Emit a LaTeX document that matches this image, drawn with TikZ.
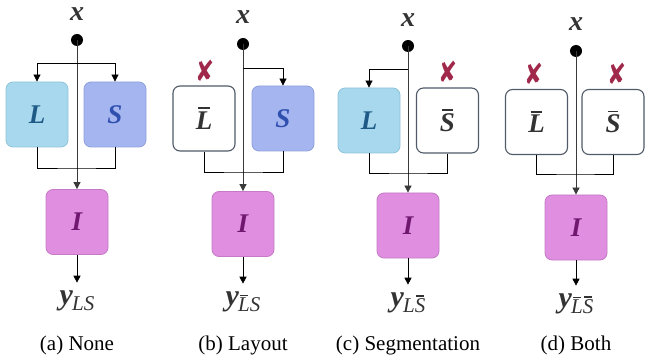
\documentclass[tikz,border=0pt]{standalone}
\usepackage{fontspec}
\usepackage{graphicx}
\setmainfont{Liberation Serif}
\newfontfamily\symfont{DejaVu Sans}
\usetikzlibrary{arrows.meta}
\definecolor{Lfill}{HTML}{A7D8EE}
\definecolor{Lborder}{HTML}{8FC3DA}
\definecolor{Ltext}{HTML}{1F5A86}
\definecolor{Sfill}{HTML}{A5B5F0}
\definecolor{Sborder}{HTML}{8E9FDA}
\definecolor{Stext}{HTML}{3050B0}
\definecolor{Ifill}{HTML}{E08EE0}
\definecolor{Iborder}{HTML}{C57AC5}
\definecolor{Itext}{HTML}{701870}
\definecolor{Nborder}{HTML}{505A68}
\definecolor{Ntext}{HTML}{333333}
\definecolor{Dark}{HTML}{333333}
\definecolor{Xred}{HTML}{A0284A}
\definecolor{Wgray}{HTML}{3A3A3A}
\newcommand\barit[1]{\begingroup\setbox0\hbox{#1}\vbox{\offinterlineskip\hbox to\wd0{\hfil\rule{0.7\wd0}{0.06em}\hfil}\kern0.1em\box0}\endgroup}
\newcommand\ysub[1]{\textbf{\textit{y}}\kern-1pt\raisebox{-6pt}{\fontsize{21}{21}\selectfont\itshape #1}}
\newcommand\xmk{\scalebox{0.95}[1.2]{✘}}
\begin{document}
\begin{tikzpicture}[x=1pt,y=-1pt,
  box/.style={rounded corners=7pt, minimum width=62pt, minimum height=65pt, line width=0.8pt, inner sep=0pt, font=\fontsize{27}{27}\selectfont\bfseries\itshape},
  lbox/.style={box, fill=Lfill, draw=Lborder, text=Ltext},
  sbox/.style={box, fill=Sfill, draw=Sborder, text=Stext},
  ibox/.style={box, fill=Ifill, draw=Iborder, text=Itext},
  nbox/.style={box, fill=white, draw=Nborder, line width=1.1pt, text=Ntext},
  wire/.style={line width=0.7pt, draw=black},
  mainwire/.style={line width=0.8pt, draw=Wgray, -{Triangle[width=7pt,length=7pt]}},
  arr/.style={wire, -{Triangle[width=7pt,length=7pt]}},
  dotn/.style={circle, fill=black, minimum size=12pt, inner sep=0pt},
  xlab/.style={font=\fontsize{28}{28}\selectfont\bfseries\itshape, text=Dark, inner sep=0pt},
  ylab/.style={font=\fontsize{30}{30}\selectfont, text=Dark, inner sep=0pt},
  cross/.style={font=\symfont\fontsize{24}{24}\selectfont, text=Xred, inner sep=0pt},
  captxt/.style={font=\fontsize{21}{21}\selectfont, inner sep=0pt}
]
\useasboundingbox (0,0) rectangle (645,358);

% (a) None
\node[xlab] (xa) at (77,14) {x};
\node[dotn] (da) at (77,40) {};
\node[lbox] (La) at (37,114.5) {L};
\node[sbox] (Sa) at (115,114.5) {S};
\node[ibox] (Ia) at (77,222) {I};
\node[ylab] (ya) at (77,301) {\ysub{LS}};
\node[captxt] (ca) at (77,345) {(a) None};
\coordinate (ba) at (77,63);
\coordinate (ja) at (77,168);
\draw[mainwire] (da.center) -- (Ia.north);
\draw[arr] (ba) -| (La.north);
\draw[arr] (ba) -| (Sa.north);
\draw[wire] (La.south) |- (ja) -| (Sa.south);
\draw[arr, shorten >=8pt] (Ia.south) -- (ya.north);

% (b) Layout
\node[xlab] (xb) at (243,17) {x};
\node[dotn] (db) at (243,44) {};
\node[nbox] (Lb) at (204,118.5) {\barit{L}};
\node[sbox] (Sb) at (283,118.5) {S};
\node[cross] (kb) at (205,71) {\xmk};
\node[ibox] (Ib) at (243,224) {I};
\node[ylab] (yb) at (243,302) {\ysub{\barit{L}S}};
\node[captxt] (cb) at (243,345) {(b) Layout};
\coordinate (bb) at (243,68);
\coordinate (jb) at (243,172);
\draw[mainwire] (db.center) -- (Ib.north);
\draw[arr] (bb) -| (Sb.north);
\draw[wire] (Lb.south) |- (jb) -| (Sb.south);
\draw[arr, shorten >=8pt] (Ib.south) -- (yb.north);

% (c) Segmentation
\node[xlab] (xc) at (408,20) {x};
\node[dotn] (dc) at (408,46) {};
\node[lbox] (Lc) at (369,120.5) {L};
\node[nbox] (Sc) at (447.5,120.5) {\barit{S}};
\node[cross] (kc) at (448,72) {\xmk};
\node[ibox] (Ic) at (408,225.5) {I};
\node[ylab] (yc) at (408,303) {\ysub{L\barit{S}}};
\node[captxt] (cc) at (408,345) {(c) Segmentation};
\coordinate (bc) at (408,69);
\coordinate (jc) at (408,173);
\draw[mainwire] (dc.center) -- (Ic.north);
\draw[arr] (bc) -| (Lc.north);
\draw[wire] (Lc.south) |- (jc) -| (Sc.south);
\draw[arr, shorten >=8pt] (Ic.south) -- (yc.north);

% (d) Both
\node[xlab] (xd) at (576,24) {x};
\node[dotn] (dd) at (576,51) {};
\node[nbox] (Ld) at (536.5,122) {\barit{L}};
\node[nbox] (Sd) at (613,122) {\barit{S}};
\node[cross] (kd1) at (534,74) {\xmk};
\node[cross] (kd2) at (617,74) {\xmk};
\node[ibox] (Id) at (576,227.5) {I};
\node[ylab] (yd) at (576,304) {\ysub{\barit{L}\barit{S}}};
\node[captxt] (cd) at (576,345) {(d) Both};
\coordinate (jd) at (576,174);
\draw[mainwire] (dd.center) -- (Id.north);
\draw[wire] (Ld.south) |- (jd) -| (Sd.south);
\draw[arr, shorten >=8pt] (Id.south) -- (yd.north);
\end{tikzpicture}
\end{document}
